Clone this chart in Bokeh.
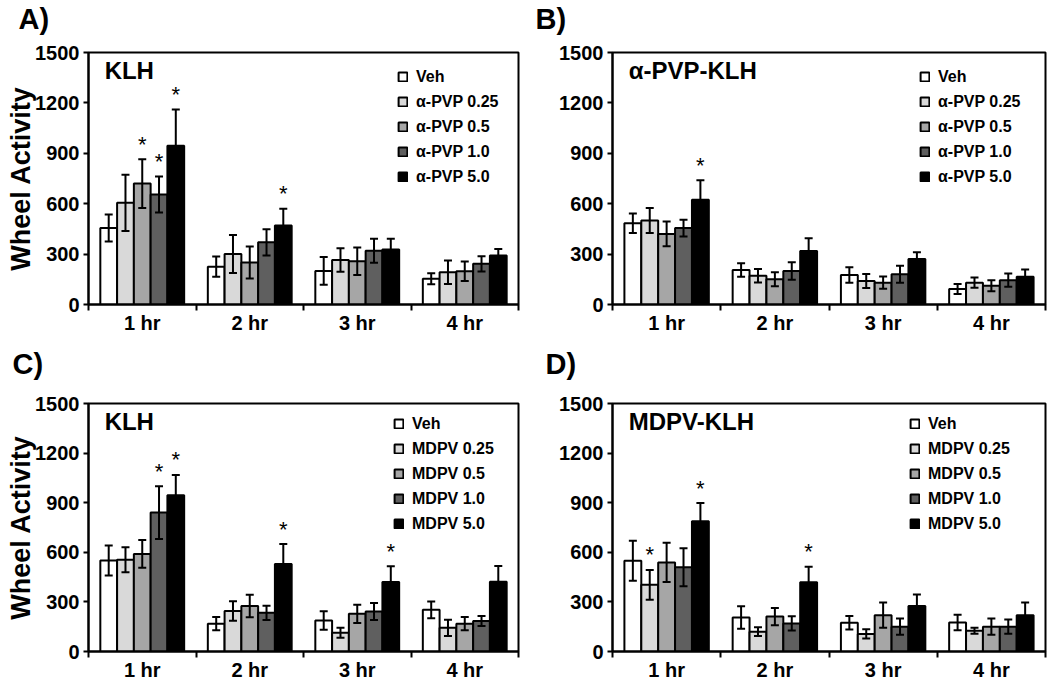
from bokeh.plotting import figure
from bokeh.models import (ColumnDataSource, Whisker, TeeHead, Label, Legend, LegendItem,
                          FixedTicker, Range1d, Title)
from bokeh.layouts import column, row
from bokeh.embed import file_html
from bokeh.resources import INLINE
from bokeh.core.properties import value

FONT = "Liberation Sans"

hours = ["1 hr", "2 hr", "3 hr", "4 hr"]
dose_labels = ["0.25", "0.5", "1.0", "5.0"]
colors = ["#ffffff", "#d9d9d9", "#a6a6a6", "#5f5f5f", "#000000"]
y_ticks = [0, 300, 600, 900, 1200, 1500]

# rows: Veh, 0.25, 0.5, 1.0, 5.0 ; columns: 1-4 hr
a_means = [[455, 225, 200, 153], [605, 300, 265, 192], [720, 250, 258, 198],
           [655, 370, 320, 242], [945, 470, 327, 291]]
a_sems = [[80, 60, 82, 33], [168, 113, 70, 70], [145, 95, 82, 58],
          [107, 78, 72, 45], [215, 100, 65, 40]]
a_stars = [(0, 2), (0, 3), (0, 4), (1, 4)]

b_means = [[484, 205, 175, 92], [500, 171, 140, 130], [420, 150, 130, 112],
           [455, 200, 180, 145], [623, 319, 271, 165]]
b_sems = [[58, 40, 46, 30], [74, 40, 42, 30], [74, 42, 36, 33],
          [50, 52, 50, 40], [116, 75, 40, 44]]
b_stars = [(0, 4)]

c_means = [[550, 168, 188, 252], [555, 245, 113, 143], [590, 275, 228, 168],
           [840, 234, 242, 184], [945, 529, 420, 422]]
c_sems = [[91, 40, 56, 51], [75, 59, 30, 49], [84, 68, 55, 40],
          [160, 43, 51, 30], [123, 121, 95, 95]]
c_stars = [(0, 3), (0, 4), (1, 4), (2, 4)]

d_means = [[549, 205, 174, 176], [403, 120, 106, 126], [539, 211, 220, 150],
           [509, 170, 150, 150], [788, 419, 275, 220]]
d_sems = [[121, 68, 41, 47], [90, 26, 28, 18], [119, 52, 76, 49],
          [115, 43, 49, 43], [110, 94, 70, 76]]
d_stars = [(0, 1), (0, 4), (1, 4)]

BW = 0.156


def panel(letter, inner, drug, means, sems, stars, height, bl, br, bt, bb,
          ylabel, leg_x, leg_y, title_off, spacer_px, xtick_out):
    width = 525
    p = figure(width=width, height=height, output_backend="svg", toolbar_location=None,
               x_range=Range1d(0, 4), y_range=Range1d(0, 1500),
               min_border_left=bl, min_border_right=br, min_border_top=bt,
               min_border_bottom=bb)
    p.xgrid.visible = False
    p.ygrid.visible = False
    p.outline_line_color = "black"
    p.outline_line_width = 2
    p.background_fill_color = "white"

    # spacer between the panel letter and the frame
    p.add_layout(Title(text=" ", text_font_size=f"{spacer_px}px", standoff=0,
                       text_font=FONT), "above")
    p.title.text = letter
    p.title.align = "left"
    p.title.vertical_align = "bottom"
    p.title.offset = title_off
    p.title.standoff = 0
    p.title.text_font = FONT
    p.title.text_font_style = "bold"
    p.title.text_font_size = "29px"
    p.title.text_color = "black"

    items = []
    for j in range(5):
        xs = [h + 0.5 + (j - 2) * BW for h in range(4)]
        src = ColumnDataSource(dict(
            x=xs, top=means[j],
            upper=[m + s for m, s in zip(means[j], sems[j])],
            lower=[m - s for m, s in zip(means[j], sems[j])]))
        r = p.vbar(x="x", top="top", bottom=0, width=BW, source=src,
                   fill_color=colors[j], line_color="black", line_width=2)
        w = Whisker(source=src, base="x", upper="upper", lower="lower",
                    dimension="height", line_color="black", line_width=2,
                    upper_head=TeeHead(size=8, line_width=2, line_color="black"),
                    lower_head=TeeHead(size=8, line_width=2, line_color="black"),
                    level="annotation")
        p.add_layout(w)
        lbl = "Veh" if j == 0 else f"{drug} {dose_labels[j - 1]}"
        items.append(LegendItem(label=lbl, renderers=[r]))

    sx = [h + 0.5 + (j - 2) * BW for h, j in stars]
    sy = [means[j][h] + sems[j][h] for h, j in stars]
    p.text(x=sx, y=sy, text=["*"] * len(sx), text_align="center",
           text_baseline="alphabetic", y_offset=-15,
           text_font=value(FONT), text_font_size="22px", text_color="black")

    leg = Legend(items=items, location=(leg_x, leg_y), padding=0, margin=0,
                 spacing=4, label_height=21, glyph_width=11, glyph_height=11,
                 label_standoff=8, border_line_alpha=0, background_fill_alpha=0,
                 label_text_font=FONT, label_text_font_style="bold",
                 label_text_font_size="16px", label_text_color="black")
    p.add_layout(leg)

    ya = p.yaxis[0]
    ya.ticker = FixedTicker(ticks=y_ticks)
    ya.axis_line_width = 2
    ya.major_tick_line_width = 2
    ya.major_tick_out = 5
    ya.major_tick_in = 0
    ya.minor_tick_line_color = None
    ya.major_label_standoff = 4
    ya.major_label_text_font = FONT
    ya.major_label_text_font_style = "bold"
    ya.major_label_text_font_size = "20px"
    ya.major_label_text_color = "black"
    if ylabel:
        ya.axis_label = "Wheel Activity"
        ya.axis_label_standoff = -4
        ya.axis_label_text_font = FONT
        ya.axis_label_text_font_style = "bold"
        ya.axis_label_text_font_size = "27px"
        ya.axis_label_text_line_height = 0.8
        ya.axis_label_text_color = "black"

    xa = p.xaxis[0]
    xa.ticker = FixedTicker(ticks=[0.5, 1.5, 2.5, 3.5], minor_ticks=[0, 1, 2, 3, 4])
    xa.major_label_overrides = {0.5: hours[0], 1.5: hours[1], 2.5: hours[2], 3.5: hours[3]}
    xa.axis_line_width = 2
    xa.major_tick_line_color = None
    xa.major_tick_out = xtick_out
    xa.major_tick_in = 0
    xa.minor_tick_line_color = "black"
    xa.minor_tick_line_width = 2
    xa.minor_tick_out = 6
    xa.minor_tick_in = 0
    xa.major_label_standoff = 1
    xa.major_label_text_font = FONT
    xa.major_label_text_font_style = "bold"
    xa.major_label_text_font_size = "20px"
    xa.major_label_text_color = "black"

    p.add_layout(Label(x=0.15, y=1390, text=inner, text_font=FONT,
                       text_font_style="bold", text_font_size="24px",
                       text_baseline="alphabetic", text_color="black"))
    return p


pA = panel("A)", "KLH", "α-PVP", a_means, a_sems, a_stars, 341,
           88, 7, 52, 37, True, 309, 117, -70, 14, 6)
pB = panel("B)", "α-PVP-KLH", "α-PVP", b_means, b_sems, b_stars, 341,
           87, 5, 52, 37, False, 307, 117, -77, 14, 6)
pC = panel("C)", "KLH", "MDPV", c_means, c_sems, c_stars, 342,
           88, 7, 62, 28, True, 305, 117, -76, 20, 3)
pD = panel("D)", "MDPV-KLH", "MDPV", d_means, d_sems, d_stars, 342,
           87, 5, 62, 28, False, 297, 117, -67, 20, 3)

layout = column(row(pA, pB), row(pC, pD))
open("out.html", "w").write(file_html(layout, INLINE))
